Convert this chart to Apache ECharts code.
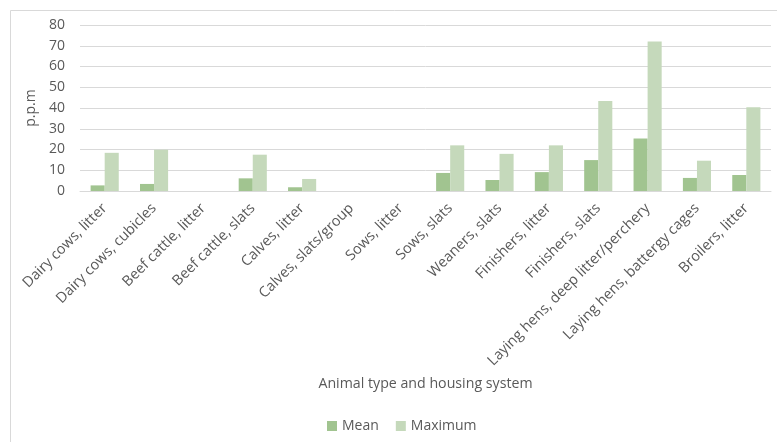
<!DOCTYPE html>
<html>
<head>
<meta charset="utf-8">
<script src="https://cdn.jsdelivr.net/npm/echarts@6/dist/echarts.min.js"></script>
<style>
  html, body { margin: 0; padding: 0; background: #fff; }
  #chart { width: 777px; height: 442px; }
</style>
</head>
<body>
<div id="chart"></div>
<script>
// Ammonia concentration by animal type and housing system
const categories = [
  'Dairy cows, litter',
  'Dairy cows, cubicles',
  'Beef cattle, litter',
  'Beef cattle, slats',
  'Calves, litter',
  'Calves, slats/group',
  'Sows, litter',
  'Sows, slats',
  'Weaners, slats',
  'Finishers, litter',
  'Finishers, slats',
  'Laying hens, deep litter/perchery',
  'Laying hens, battergy cages',
  'Broilers, litter'
];
const meanValues = [2.7, 3.4, 0, 6.1, 1.8, 0, 0, 8.7, 5.3, 9.1, 14.9, 25.3, 6.3, 7.7];
const maxValues = [18.4, 19.9, 0, 17.5, 5.8, 0, 0, 22.0, 17.9, 22.0, 43.4, 72.1, 14.6, 40.4];
const yTicks = [0, 10, 20, 30, 40, 50, 60, 70, 80];

const textColor = '#595959';
const fontFamily = '"Open Sans", sans-serif';

const chart = echarts.init(document.getElementById('chart'), null, { renderer: 'canvas' });
chart.setOption({
  backgroundColor: '#ffffff',
  animation: false,
  textStyle: { fontFamily: fontFamily, color: textColor },
  graphic: [{
    type: 'rect',
    left: 8, top: 8,
    shape: { width: 820, height: 480 },
    style: { fill: 'none', stroke: '#d9d9d9', lineWidth: 1 },
    silent: true, z: -10
  }],
  grid: { left: 80, right: 6, top: 25, bottom: 251, containLabel: false },
  legend: {
    data: ['Mean', 'Maximum'],
    left: 322, top: 414,
    itemWidth: 10, itemHeight: 10, itemGap: 17,
    icon: 'rect',
    textStyle: { fontSize: 14, color: textColor, fontFamily: fontFamily }
  },
  xAxis: {
    type: 'category',
    data: categories,
    name: 'Animal type and housing system',
    nameLocation: 'middle',
    nameGap: 186,
    nameTextStyle: { fontSize: 14.2, color: textColor, fontFamily: fontFamily },
    axisLine: { lineStyle: { color: '#d9d9d9' } },
    axisTick: { show: false },
    axisLabel: {
      rotate: 45, interval: 0, fontSize: 14.5, color: textColor,
      fontFamily: fontFamily, margin: 15
    }
  },
  yAxis: {
    type: 'value',
    min: yTicks[0], max: yTicks[yTicks.length - 1], interval: 10,
    name: 'p.p.m',
    nameLocation: 'middle',
    nameGap: 27,
    nameRotate: 90,
    nameTextStyle: { fontSize: 14, color: textColor, fontFamily: fontFamily },
    axisLine: { show: false },
    axisTick: { show: false },
    axisLabel: { fontSize: 14, color: textColor, fontFamily: fontFamily, margin: 15 },
    splitLine: { lineStyle: { color: '#d9d9d9', width: 1 } }
  },
  series: [
    {
      name: 'Mean', type: 'bar', data: meanValues,
      barGap: '0%', barCategoryGap: '43%',
      itemStyle: { color: '#a1c490' }
    },
    {
      name: 'Maximum', type: 'bar', data: maxValues,
      itemStyle: { color: '#c5d9bb' }
    }
  ]
});
</script>
</body>
</html>
